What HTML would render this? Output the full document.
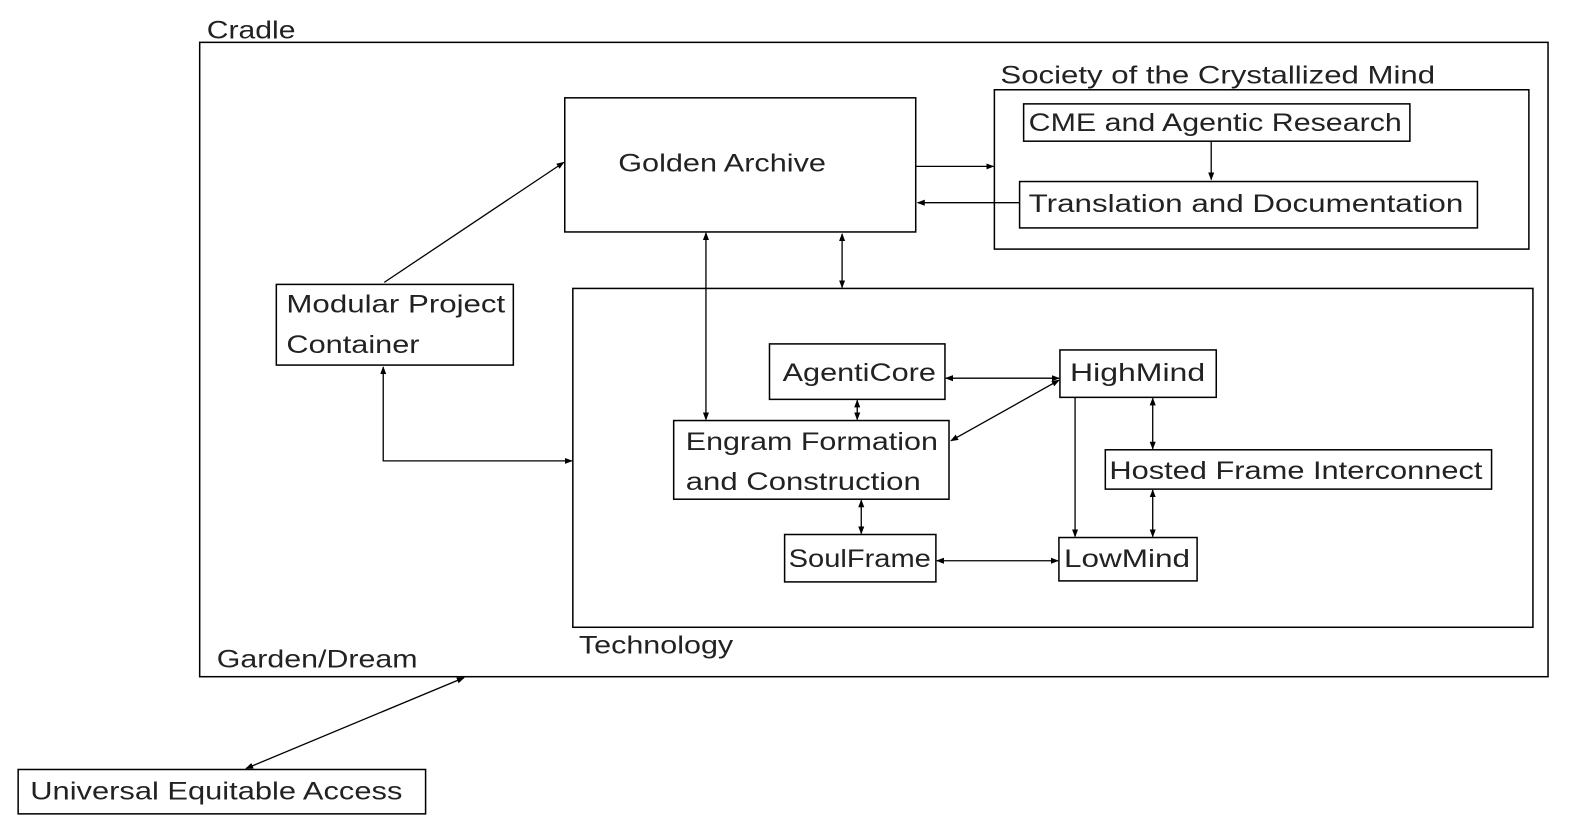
<!DOCTYPE html>
<html><head><meta charset="utf-8"><style>
html,body{margin:0;padding:0;background:#fff;}
svg{display:block;}
text{font-family:"Liberation Sans","DejaVu Sans",sans-serif;font-size:25px;fill:#222;}
</style></head><body>
<svg width="1580" height="833" viewBox="0 0 1580 833" xmlns="http://www.w3.org/2000/svg">
<defs>
<marker id="a" markerWidth="8" markerHeight="8" refX="7" refY="4" orient="auto-start-reverse" markerUnits="userSpaceOnUse">
<path d="M0,1 L8,4 L0,7 Z" fill="#000"/></marker>
</defs>
<g transform="scale(1.0085)">
<g fill="none" stroke="#000" stroke-width="1.5">
<rect x="198" y="42" width="1337" height="629"/>
<rect x="560" y="97" width="348" height="133"/>
<rect x="986" y="89" width="530" height="158"/>
<rect x="1015" y="103" width="383" height="37"/>
<rect x="1011" y="180" width="454" height="46"/>
<rect x="568" y="286" width="952" height="336"/>
<rect x="274" y="282" width="235" height="80"/>
<rect x="763" y="341" width="174" height="55"/>
<rect x="1051" y="347" width="155" height="47"/>
<rect x="668" y="417" width="273" height="78"/>
<rect x="1096" y="446" width="383" height="39"/>
<rect x="778" y="530" width="150" height="47"/>
<rect x="1050" y="533" width="137" height="43"/>
<rect x="18" y="763" width="404" height="44"/>
</g>
<g fill="none" stroke="#000" stroke-width="1.3">
<line x1="1201" y1="140" x2="1201" y2="178" marker-end="url(#a)"/>
<line x1="908" y1="165" x2="985" y2="165" marker-end="url(#a)"/>
<line x1="1011" y1="201" x2="910" y2="201" marker-end="url(#a)"/>
<line x1="381" y1="280" x2="559" y2="161" marker-end="url(#a)"/>
<polyline points="380,364 380,457 567,457" marker-start="url(#a)" marker-end="url(#a)"/>
<line x1="700" y1="231" x2="700" y2="416" marker-start="url(#a)" marker-end="url(#a)"/>
<line x1="835" y1="232" x2="835" y2="285" marker-start="url(#a)" marker-end="url(#a)"/>
<line x1="938" y1="375" x2="1050" y2="375" marker-start="url(#a)" marker-end="url(#a)"/>
<line x1="850" y1="397" x2="850" y2="416" marker-start="url(#a)" marker-end="url(#a)"/>
<line x1="943" y1="437" x2="1050" y2="377" marker-start="url(#a)" marker-end="url(#a)"/>
<line x1="1066" y1="394" x2="1066" y2="532" marker-end="url(#a)"/>
<line x1="1143" y1="395" x2="1143" y2="445" marker-start="url(#a)" marker-end="url(#a)"/>
<line x1="1143" y1="486" x2="1143" y2="532" marker-start="url(#a)" marker-end="url(#a)"/>
<line x1="854" y1="496" x2="854" y2="529" marker-start="url(#a)" marker-end="url(#a)"/>
<line x1="929" y1="556" x2="1049" y2="556" marker-start="url(#a)" marker-end="url(#a)"/>
<line x1="244" y1="762" x2="460" y2="672" marker-start="url(#a)" marker-end="url(#a)"/>
</g>
<text x="205" y="38" textLength="88" lengthAdjust="spacingAndGlyphs">Cradle</text>
<text x="613" y="170" textLength="206" lengthAdjust="spacingAndGlyphs">Golden Archive</text>
<text x="992" y="83" textLength="431" lengthAdjust="spacingAndGlyphs">Society of the Crystallized Mind</text>
<text x="1020" y="130" textLength="370" lengthAdjust="spacingAndGlyphs">CME and Agentic Research</text>
<text x="1020" y="210" textLength="431" lengthAdjust="spacingAndGlyphs">Translation and Documentation</text>
<text x="284" y="310" textLength="217" lengthAdjust="spacingAndGlyphs">Modular Project</text>
<text x="284" y="350" textLength="132" lengthAdjust="spacingAndGlyphs">Container</text>
<text x="776" y="378" textLength="152" lengthAdjust="spacingAndGlyphs">AgentiCore</text>
<text x="1061" y="378" textLength="134" lengthAdjust="spacingAndGlyphs">HighMind</text>
<text x="680" y="446" textLength="250" lengthAdjust="spacingAndGlyphs">Engram Formation</text>
<text x="680" y="486" textLength="233" lengthAdjust="spacingAndGlyphs">and Construction</text>
<text x="1100" y="475" textLength="370" lengthAdjust="spacingAndGlyphs">Hosted Frame Interconnect</text>
<text x="782" y="562" textLength="141" lengthAdjust="spacingAndGlyphs">SoulFrame</text>
<text x="1055" y="562" textLength="125" lengthAdjust="spacingAndGlyphs">LowMind</text>
<text x="574" y="648" textLength="153" lengthAdjust="spacingAndGlyphs">Technology</text>
<text x="215" y="662" textLength="199" lengthAdjust="spacingAndGlyphs">Garden/Dream</text>
<text x="30" y="793" textLength="369" lengthAdjust="spacingAndGlyphs">Universal Equitable Access</text>
</g>
</svg>
</body></html>
